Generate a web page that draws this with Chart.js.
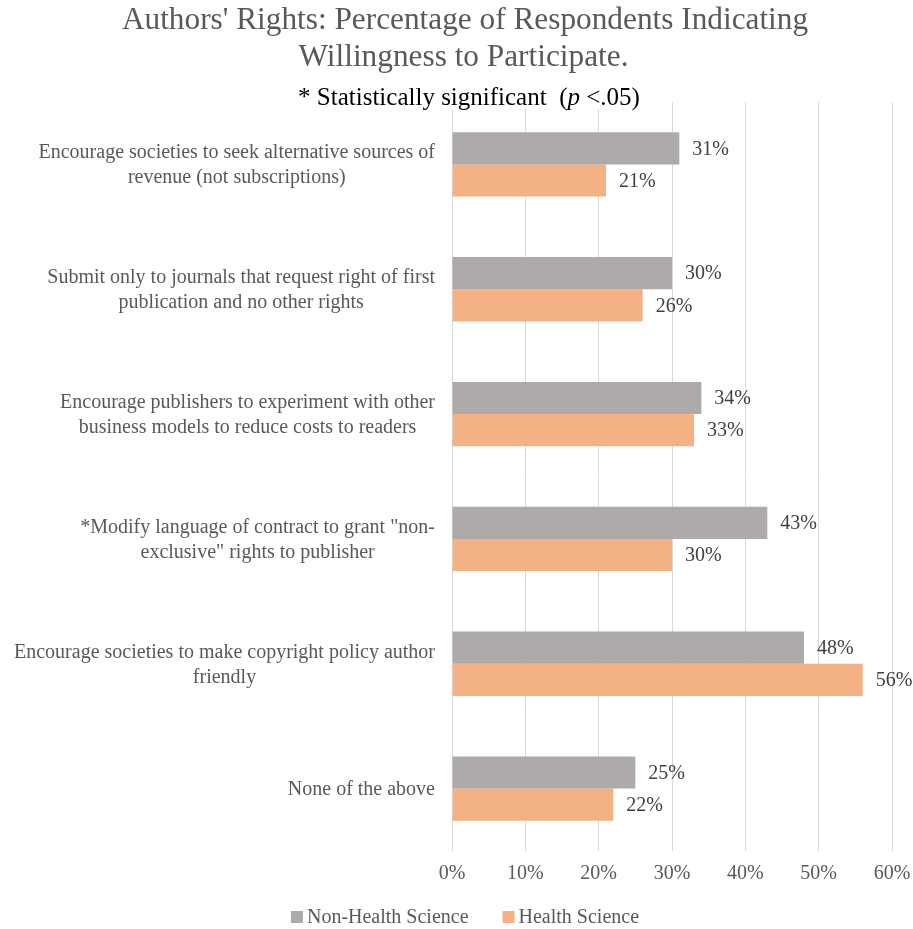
<!DOCTYPE html>
<html>
<head>
<meta charset="utf-8">
<script src="https://cdn.jsdelivr.net/npm/chart.js@4.4.1/dist/chart.umd.min.js"></script>
<style>
  html, body { margin: 0; padding: 0; background: #fff; }
  #wrap { width: 913px; height: 929px; }
</style>
</head>
<body>
<div id="wrap"><canvas id="authorsChart"></canvas></div>
<script>
const titleLines = ["Authors' Rights: Percentage of Respondents Indicating", 'Willingness to Participate.']
const categories = [
  ['Encourage societies to seek alternative sources of', 'revenue (not subscriptions)'],
  ['Submit only to journals that request right of first', 'publication and no other rights'],
  ['Encourage publishers to experiment with other', 'business models to reduce costs to readers'],
  ['*Modify language of contract to grant "non-', 'exclusive" rights to publisher'],
  ['Encourage societies to make copyright policy author', 'friendly'],
  ['None of the above']
]
const nonHealthScience = [31, 30, 34, 43, 48, 25]
const healthScience = [21, 26, 33, 30, 56, 22]
const xTicks = [0, 10, 20, 30, 40, 50, 60]

const serif = "'Liberation Serif', 'Times New Roman', serif"

// value labels at the end of each bar
const barValueLabels = {
  id: 'barValueLabels',
  afterDatasetsDraw(chart) {
    const ctx = chart.ctx
    ctx.save()
    ctx.font = '20px ' + serif
    ctx.fillStyle = '#404040'
    ctx.textBaseline = 'middle'
    ctx.textAlign = 'left'
    chart.data.datasets.forEach((ds, i) => {
      chart.getDatasetMeta(i).data.forEach((bar, j) => {
        ctx.fillText(ds.data[j] + '%', bar.x + 13, bar.y + 1)
      })
    })
    ctx.restore()
  }
}

// category labels: each block centred on itself, right edge against the plot
const categoryLabels = {
  id: 'categoryLabels',
  afterDraw(chart) {
    const ctx = chart.ctx
    const yScale = chart.scales.y
    const right = chart.chartArea.left - 17
    const lh = 25
    ctx.save()
    ctx.font = '20px ' + serif
    ctx.fillStyle = '#595959'
    ctx.textAlign = 'center'
    ctx.textBaseline = 'middle'
    chart.data.labels.forEach((lines, i) => {
      const y = yScale.getPixelForTick(i)
      const maxW = Math.max(...lines.map((l) => ctx.measureText(l).width))
      const cx = right - maxW / 2
      lines.forEach((l, k) => {
        ctx.fillText(l, cx, y + 1 + (k - (lines.length - 1) / 2) * lh)
      })
    })
    ctx.restore()
  }
}

// title lines + subtitle with italic "p"
const chartHeader = {
  id: 'chartHeader',
  afterDraw(chart) {
    const ctx = chart.ctx
    ctx.save()
    ctx.fillStyle = '#595959'
    ctx.font = '31.3px ' + serif
    ctx.textAlign = 'center'
    ctx.textBaseline = 'middle'
    ctx.fillText(titleLines[0], 465, 21)
    ctx.fillText(titleLines[1], 463.5, 58)

    const parts = [
      { t: '* Statistically significant  (', f: '25px ' + serif },
      { t: 'p', f: 'italic 25px ' + serif },
      { t: ' <.05)', f: '25px ' + serif }
    ]
    let total = 0
    parts.forEach((p) => { ctx.font = p.f; total += ctx.measureText(p.t).width })
    let x = 469 - total / 2
    const y = chart.chartArea.top + 3
    ctx.fillStyle = '#fff'
    ctx.fillRect(x - 4, chart.chartArea.top - 2, total + 8, 9)
    ctx.fillStyle = '#000'
    ctx.textAlign = 'left'
    ctx.textBaseline = 'alphabetic'
    parts.forEach((p) => {
      ctx.font = p.f
      ctx.fillText(p.t, x, y)
      x += ctx.measureText(p.t).width
    })
    ctx.restore()
  }
}

// legend drawn by hand so box/text spacing matches
const bottomLegend = {
  id: 'bottomLegend',
  afterDraw(chart) {
    const ctx = chart.ctx
    ctx.save()
    ctx.font = '20px ' + serif
    const items = chart.data.datasets.map((ds) => ({
      text: ds.label,
      color: ds.backgroundColor,
      w: ctx.measureText(ds.label).width
    }))
    const box = 12
    const gap = 4
    const between = 34
    let total = 0
    items.forEach((it, i) => { total += box + gap + it.w + (i ? between : 0) })
    let x = 465 - total / 2
    const y = 917
    ctx.textBaseline = 'middle'
    ctx.textAlign = 'left'
    items.forEach((it) => {
      ctx.fillStyle = it.color
      ctx.fillRect(x, y - box / 2, box, box)
      ctx.fillStyle = '#595959'
      ctx.fillText(it.text, x + box + gap, y + 1)
      x += box + gap + it.w + between
    })
    ctx.restore()
  }
}

new Chart(document.getElementById('authorsChart'), {
  type: 'bar',
  data: {
    labels: categories,
    datasets: [
      {
        label: 'Non-Health Science',
        data: nonHealthScience,
        backgroundColor: '#ADAAA9',
        barPercentage: 1,
        categoryPercentage: 0.515
      },
      {
        label: 'Health Science',
        data: healthScience,
        backgroundColor: '#F4B183',
        barPercentage: 1,
        categoryPercentage: 0.515
      }
    ]
  },
  options: {
    indexAxis: 'y',
    responsive: true,
    maintainAspectRatio: false,
    animation: false,
    layout: { padding: { left: 0, right: 0, top: 102, bottom: 32 } },
    scales: {
      x: {
        min: 0,
        max: 60,
        afterBuildTicks: (scale) => { scale.ticks = xTicks.map((v) => ({ value: v })) },
        afterFit: (scale) => { scale.paddingRight = 21 },
        grid: { color: '#D9D9D9', drawTicks: false },
        border: { display: false },
        ticks: {
          padding: 11,
          color: '#595959',
          font: { family: serif, size: 20 },
          callback: (v) => v + '%'
        }
      },
      y: {
        grid: { display: false },
        border: { display: false },
        afterFit: (scale) => { scale.width = 452 },
        ticks: { display: false }
      }
    },
    plugins: {
      title: { display: false },
      legend: { display: false },
      tooltip: { enabled: false }
    }
  },
  plugins: [barValueLabels, categoryLabels, chartHeader, bottomLegend]
})
</script>
</body>
</html>
